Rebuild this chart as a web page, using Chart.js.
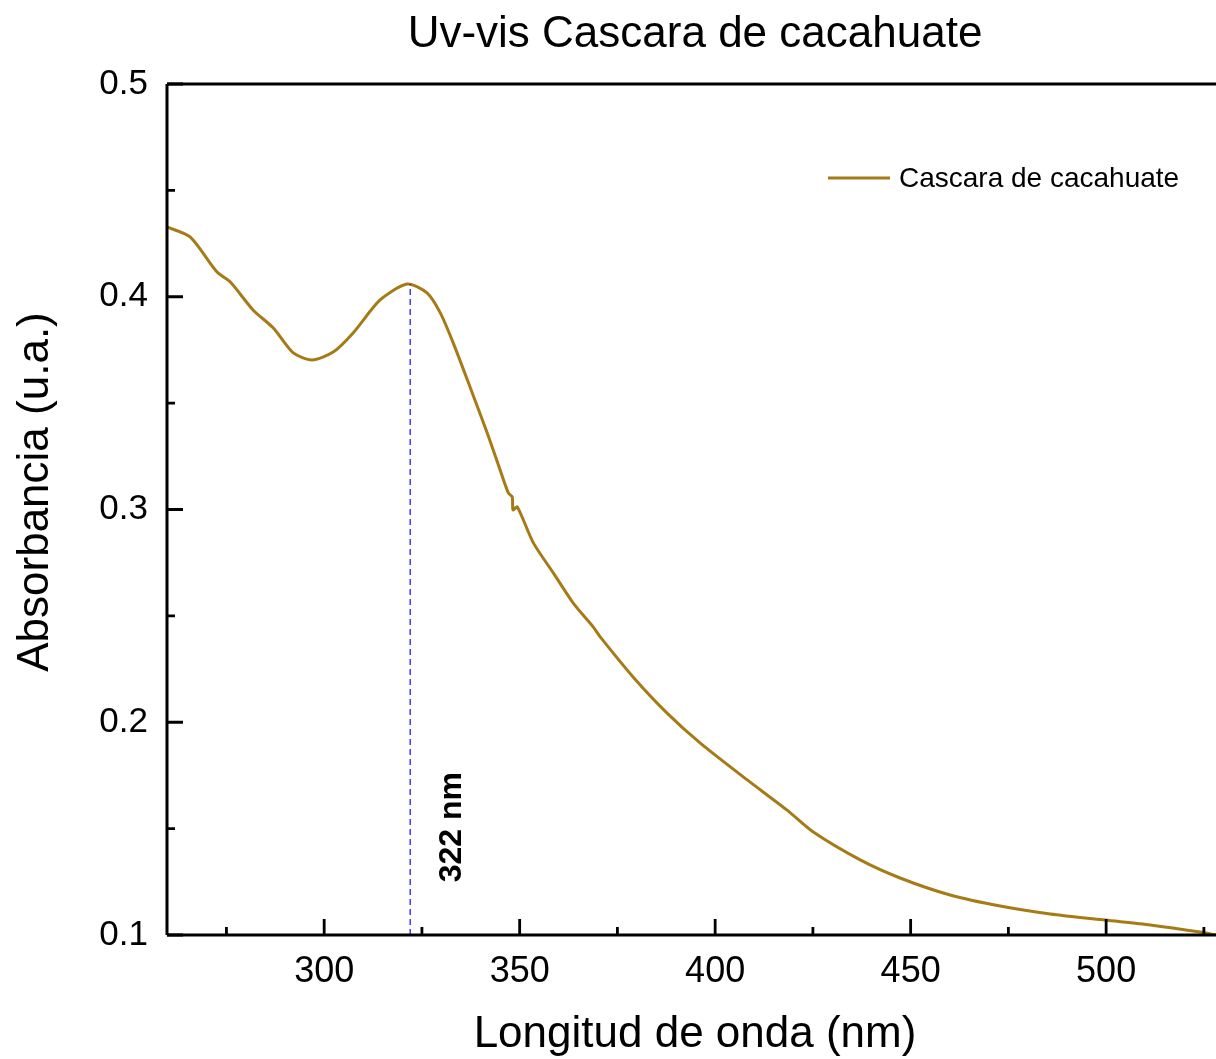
<!DOCTYPE html>
<html>
<head>
<meta charset="utf-8">
<script src="https://cdn.jsdelivr.net/npm/chart.js@4.4.1/dist/chart.umd.min.js"></script>
<style>
  html, body { margin: 0; padding: 0; background: #fff; overflow: hidden; }
  #wrap { width: 1216px; height: 1059px; }
</style>
</head>
<body>
<div id="wrap"><canvas id="uvChart" width="1216" height="1059"></canvas></div>
<script>
// wavelength (nm) and absorbance
var wavelength = [259.8, 265.7, 272.6, 276.0, 281.8, 287.0, 292.1, 296.9, 302.3, 307.4,
  314.3, 321.2, 326.3, 329.7, 333.0, 337.3, 341.7, 345.0, 347.1, 348.1, 348.3, 349.4,
  353.5, 358.6, 363.7, 368.8, 370.6, 379.0, 387.7, 396.2, 408.2, 418.4, 425.1, 437.1,
  447.3, 460.1, 472.9, 485.7, 499.7, 511.3, 524.0, 528.1];
var absorbance = [0.4328, 0.4281, 0.4116, 0.4069, 0.3938, 0.3853, 0.3736, 0.3703, 0.3740, 0.3830,
  0.3985, 0.4060, 0.4018, 0.3924, 0.3783, 0.3576, 0.3360, 0.3186, 0.3078, 0.3059, 0.2998, 0.3012,
  0.2843, 0.2702, 0.2560, 0.2448, 0.2401, 0.2213, 0.2043, 0.1902, 0.1729, 0.1587, 0.1484, 0.1353,
  0.1268, 0.1188, 0.1136, 0.1099, 0.1070, 0.1047, 0.1014, 0.1000];

var peakX = [322, 322];
var peakY = [0.1, 0.406];
var peakLabel = "322 nm";

var xTicks = [300, 350, 400, 450, 500];
var xMinorTicks = [275, 325, 375, 425, 475, 525];
var yTicks = [0.1, 0.2, 0.3, 0.4, 0.5];
var yMinorTicks = [0.15, 0.25, 0.35, 0.45];

var chartTitle = "Uv-vis Cascara de cacahuate";
var seriesName = "Cascara de cacahuate";
var xTitle = "Longitud de onda (nm)";
var yTitle = "Absorbancia (u.a.)";

var lineColor = "#a67b16";
var fontFamily = "'Liberation Sans', Arial, Helvetica, sans-serif";

var curveData = wavelength.map(function (w, i) { return { x: w, y: absorbance[i] }; });
var peakData = peakX.map(function (w, i) { return { x: w, y: peakY[i] }; });

// frame, inward ticks, titles, legend and peak label
var decorPlugin = {
  id: "decor",
  afterDraw: function (chart) {
    var ctx = chart.ctx;
    var area = chart.chartArea;
    var xs = chart.scales.x;
    var ys = chart.scales.y;

    ctx.save();
    ctx.strokeStyle = "#000";
    ctx.lineWidth = 3;
    ctx.beginPath();
    ctx.moveTo(area.left, area.top);
    ctx.lineTo(area.right, area.top);
    ctx.moveTo(area.left, area.top);
    ctx.lineTo(area.left, area.bottom);
    ctx.moveTo(area.left, area.bottom);
    ctx.lineTo(area.right, area.bottom);
    ctx.stroke();

    ctx.lineWidth = 2.8;
    ctx.beginPath();
    xTicks.forEach(function (v) {
      var px = xs.getPixelForValue(v);
      ctx.moveTo(px, area.bottom);
      ctx.lineTo(px, area.bottom - 16);
    });
    xMinorTicks.forEach(function (v) {
      var px = xs.getPixelForValue(v);
      ctx.moveTo(px, area.bottom);
      ctx.lineTo(px, area.bottom - 8);
    });
    yTicks.forEach(function (v) {
      var py = ys.getPixelForValue(v);
      ctx.moveTo(area.left, py);
      ctx.lineTo(area.left + 16, py);
    });
    yMinorTicks.forEach(function (v) {
      var py = ys.getPixelForValue(v);
      ctx.moveTo(area.left, py);
      ctx.lineTo(area.left + 8, py);
    });
    ctx.stroke();

    // titles
    ctx.fillStyle = "#000";
    ctx.textAlign = "center";
    ctx.textBaseline = "middle";
    ctx.font = "44px " + fontFamily;
    ctx.fillText(chartTitle, 695, 35);
    ctx.fillText(xTitle, 695, 1035);
    ctx.save();
    ctx.translate(36, 492);
    ctx.rotate(-Math.PI / 2);
    ctx.fillText(yTitle, 0, 0);
    ctx.restore();

    // legend
    ctx.strokeStyle = lineColor;
    ctx.lineWidth = 3;
    ctx.beginPath();
    ctx.moveTo(828, 178);
    ctx.lineTo(890, 178);
    ctx.stroke();
    ctx.textAlign = "left";
    ctx.font = "28px " + fontFamily;
    ctx.fillText(seriesName, 899, 179);

    // peak label
    ctx.save();
    ctx.translate(xs.getPixelForValue(332.7), ys.getPixelForValue(0.1507));
    ctx.rotate(-Math.PI / 2);
    ctx.textAlign = "center";
    ctx.font = "bold 32px " + fontFamily;
    ctx.fillText(peakLabel, 0, 0);
    ctx.restore();

    ctx.restore();
  }
};

var ctx = document.getElementById("uvChart").getContext("2d");
new Chart(ctx, {
  type: "scatter",
  data: {
    datasets: [
      {
        label: "peak",
        data: peakData,
        showLine: true,
        borderColor: "#1f1fff",
        borderWidth: 1.3,
        borderDash: [6, 4],
        pointRadius: 0,
      },
      {
        label: seriesName,
        data: curveData,
        showLine: true,
        borderColor: lineColor,
        borderWidth: 3,
        tension: 0.25,
        pointRadius: 0,
      },
    ],
  },
  options: {
    responsive: false,
    animation: false,
    layout: { padding: { top: 84, right: 0, left: 0, bottom: 0 } },
    plugins: {
      legend: { display: false },
      tooltip: { enabled: false },
    },
    scales: {
      x: {
        type: "linear",
        min: 259.8,
        max: 528.1,
        grid: { display: false, drawTicks: false },
        border: { display: false },
        afterBuildTicks: function (scale) {
          scale.ticks = xTicks.map(function (v) { return { value: v }; });
        },
        afterFit: function (scale) { scale.height = 124; },
        ticks: {
          color: "#000",
          padding: 15,
          maxRotation: 0,
          font: { family: fontFamily, size: 36 },
          callback: function (v) { return String(v); },
        },
      },
      y: {
        type: "linear",
        min: 0.1,
        max: 0.5,
        grid: { display: false, drawTicks: false },
        border: { display: false },
        afterBuildTicks: function (scale) {
          scale.ticks = yTicks.map(function (v) { return { value: v }; });
        },
        afterFit: function (scale) { scale.width = 167; },
        ticks: {
          color: "#000",
          padding: 19,
          font: { family: fontFamily, size: 35 },
          callback: function (v) { return v.toFixed(1); },
        },
      },
    },
  },
  plugins: [decorPlugin],
});
</script>
</body>
</html>
